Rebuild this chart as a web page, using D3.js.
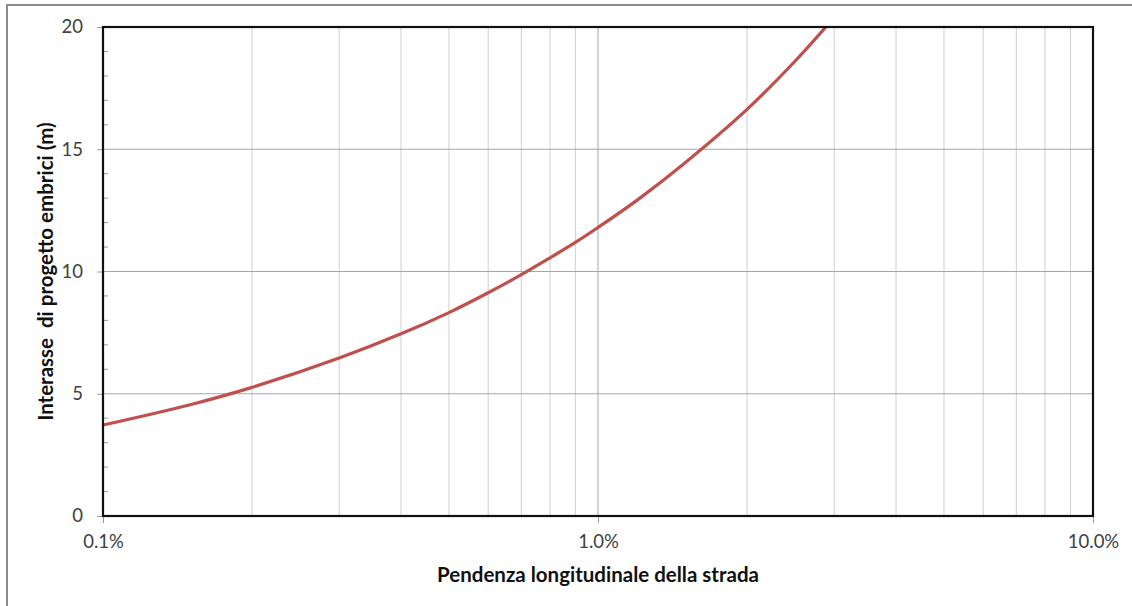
<!DOCTYPE html>
<html>
<head>
<meta charset="utf-8">
<script src="https://cdn.jsdelivr.net/npm/d3@7"></script>
<style>
  body { margin: 0; background: #fff; }
  svg { display: block; font-family: Lato, "Open Sans", sans-serif; }
</style>
</head>
<body>
<div id="chart"></div>
<script>
// slope (%) and design spacing of the tiles (m)
const slopePct = [0.1, 0.15, 0.2, 0.3, 0.4, 0.5, 0.6, 0.7, 0.8, 0.9, 1.0, 1.2, 1.5, 2.0, 2.5, 2.9];
const spacingM = [3.72, 4.55, 5.26, 6.46, 7.45, 8.32, 9.13, 9.87, 10.56, 11.19, 11.8, 12.92, 14.45, 16.63, 18.6, 20.05];

const xTicks = [0.1, 1, 10];
const xTickLabels = ["0.1%", "1.0%", "10.0%"];
const xMinorGrid = [0.2, 0.3, 0.4, 0.5, 0.6, 0.7, 0.8, 0.9, 2, 3, 4, 5, 6, 7, 8, 9];
const yTicks = [0, 5, 10, 15, 20];

const width = 1132, height = 606;
const plotLeft = 103, plotRight = 1093, plotTop = 27, plotBottom = 516;

const svg = d3.select("#chart").append("svg")
    .attr("width", width)
    .attr("height", height);

// chart area frame
svg.append("rect")
    .attr("x", 7).attr("y", 5)
    .attr("width", width + 10).attr("height", height + 10)
    .attr("fill", "#fff")
    .attr("stroke", "#8c8c8c")
    .attr("stroke-width", 2);

const xScale = d3.scaleLog().domain([0.1, 10]).range([plotLeft, plotRight]);
const yScale = d3.scaleLinear().domain([0, 20]).range([plotBottom, plotTop]);

// minor vertical gridlines
svg.selectAll("line.minor-x")
    .data(xMinorGrid)
    .enter()
    .append("line")
    .attr("class", "minor-x")
    .attr("x1", d => xScale(d)).attr("x2", d => xScale(d))
    .attr("y1", plotTop).attr("y2", plotBottom)
    .attr("stroke", "#cfcfcf")
    .attr("stroke-width", 1);

// major vertical gridline at 1%
svg.append("line")
    .attr("x1", xScale(1)).attr("x2", xScale(1))
    .attr("y1", plotTop).attr("y2", plotBottom)
    .attr("stroke", "#a6a6a6")
    .attr("stroke-width", 1);

// horizontal gridlines
svg.selectAll("line.grid-y")
    .data(yTicks.slice(1, -1))
    .enter()
    .append("line")
    .attr("class", "grid-y")
    .attr("x1", plotLeft).attr("x2", plotRight)
    .attr("y1", d => yScale(d)).attr("y2", d => yScale(d))
    .attr("stroke", "#a6a6a6")
    .attr("stroke-width", 1);

// y minor ticks (inside)
const yMinor = d3.range(0, 21).filter(v => v % 5 !== 0);
svg.selectAll("line.ytick-minor")
    .data(yMinor)
    .enter()
    .append("line")
    .attr("x1", plotLeft).attr("x2", plotLeft + 5)
    .attr("y1", d => yScale(d)).attr("y2", d => yScale(d))
    .attr("stroke", "#9a9a9a");

// y axis
const yAxis = d3.axisLeft(yScale).tickValues(yTicks).tickSize(6).tickPadding(14);
const gy = svg.append("g")
    .attr("transform", "translate(" + plotLeft + ",0)")
    .call(yAxis);
gy.select(".domain").remove();
gy.selectAll(".tick line").attr("stroke", "#9a9a9a");
gy.selectAll(".tick text")
    .attr("fill", "#404040")
    .style("font-size", "18.5px")
    .style("font-family", "Lato, sans-serif");

// x axis
const xAxis = d3.axisBottom(xScale).tickValues(xTicks)
    .tickFormat((d, i) => xTickLabels[i]).tickSize(7).tickPadding(12);
const gx = svg.append("g")
    .attr("transform", "translate(0," + plotBottom + ")")
    .call(xAxis);
gx.select(".domain").remove();
gx.selectAll(".tick line").attr("stroke", "#9a9a9a");
gx.selectAll(".tick text")
    .attr("fill", "#404040")
    .style("font-size", "18.5px")
    .style("font-family", "Lato, sans-serif");

// curve
svg.append("clipPath").attr("id", "plot-clip")
    .append("rect")
    .attr("x", plotLeft).attr("y", plotTop)
    .attr("width", plotRight - plotLeft).attr("height", plotBottom - plotTop);

const points = slopePct.map((p, i) => ({ x: p, y: spacingM[i] }));
const line = d3.line()
    .x(d => xScale(d.x))
    .y(d => yScale(d.y))
    .curve(d3.curveCatmullRom.alpha(0.5));

svg.append("path")
    .datum(points)
    .attr("d", line)
    .attr("clip-path", "url(#plot-clip)")
    .attr("fill", "none")
    .attr("stroke", "#c0504d")
    .attr("stroke-width", 3.2)
    .attr("stroke-linecap", "round");

// plot area border
svg.append("rect")
    .attr("x", plotLeft).attr("y", plotTop)
    .attr("width", plotRight - plotLeft).attr("height", plotBottom - plotTop)
    .attr("fill", "none")
    .attr("stroke", "#111")
    .attr("stroke-width", 2.2);

// axis titles
svg.append("text")
    .attr("x", (plotLeft + plotRight) / 2)
    .attr("y", 582)
    .attr("text-anchor", "middle")
    .attr("fill", "#111")
    .style("font-size", "20.5px")
    .style("font-weight", "bold")
    .text("Pendenza longitudinale della strada");

svg.append("text")
    .attr("transform", "translate(53," + ((plotTop + plotBottom) / 2) + ") rotate(-90)")
    .attr("text-anchor", "middle")
    .attr("fill", "#111")
    .style("font-size", "20.5px")
    .style("font-weight", "bold")
    .style("white-space", "pre")
    .text("Interasse  di progetto embrici (m)");
</script>
</body>
</html>
